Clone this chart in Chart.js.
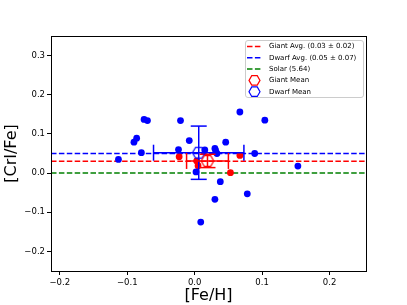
<!DOCTYPE html>
<html lang="en">
<head>
    <meta charset="UTF-8">
    <title>[CrI/Fe] vs [Fe/H]</title>
    <style>
        body { margin: 0; background: #fff; }
        #chart { display: block; }
    </style>
</head>
<body>
    <canvas id="chart" width="407" height="305"></canvas>

    <script src="https://cdn.jsdelivr.net/npm/chart.js"></script>
    <script>
        // dwarf stars
        const dwarfFeH = [-0.113, -0.090, -0.086, -0.075, -0.070, -0.079, -0.021, -0.008, -0.024, 0.046, 0.067, 0.104,
                          0.015, 0.030, 0.031, 0.033, 0.089, 0.002, 0.038, 0.030, 0.078, 0.009, 0.153]
        const dwarfCrFe = [0.035, 0.079, 0.089, 0.137, 0.134, 0.052, 0.134, 0.083, 0.060, 0.079, 0.156, 0.135,
                           0.059, 0.063, 0.058, 0.050, 0.050, 0.003, -0.022, -0.067, -0.053, -0.125, 0.018]
        // giant stars
        const giantFeH = [-0.023, 0.003, 0.005, 0.067, 0.053]
        const giantCrFe = [0.042, 0.031, 0.019, 0.045, 0.001]

        // means and spreads
        const giantMean = {x: 0.019, y: 0.031}
        const giantErr = {x: 0.031, y: 0.017}
        const dwarfMean = {x: 0.006, y: 0.052}
        const dwarfErr = {x: 0.067, y: 0.068}

        const giantAvg = 0.03
        const dwarfAvg = 0.05
        const solarLine = 0.0

        const xTicks = [-0.2, -0.1, 0.0, 0.1, 0.2]
        const yTicks = [-0.2, -0.1, 0.0, 0.1, 0.2, 0.3]
        const xRange = [-0.213, 0.254]
        const yRange = [-0.25, 0.35]

        const legendLabels = ['Giant Avg. (0.03 \u00b1 0.02)', 'Dwarf Avg. (0.05 \u00b1 0.07)', 'Solar (5.64)', 'Giant Mean', 'Dwarf Mean']

        const FONT = 'DejaVu Sans'
        const RED = '#ff0000', BLUE = '#0000ff', GREEN = '#008000'

        const toPts = (xs, ys) => xs.map((x, i) => ({x: x, y: ys[i]}))
        const fmt = v => v.toFixed(1).replace('-', '\u2212')

        // flat-topped hexagon, drawn once and used as a point style
        function hexPath(g, cx, cy, r) {
            g.beginPath()
            for (let i = 0; i < 6; i++) {
                const a = Math.PI / 3 * i
                const px = cx + r * Math.cos(a), py = cy + r * Math.sin(a)
                if (i) g.lineTo(px, py); else g.moveTo(px, py)
            }
            g.closePath()
        }
        function hexImage(color, r, lw) {
            const c = document.createElement('canvas')
            const s = Math.ceil(2 * r + lw + 2)
            c.width = c.height = s
            const g = c.getContext('2d')
            g.strokeStyle = color
            g.lineWidth = lw
            hexPath(g, s / 2, s / 2, r)
            g.stroke()
            return c
        }

        const hLine = (y, color) => ({
            data: [{x: xRange[0], y: y}, {x: xRange[1], y: y}],
            showLine: true, borderColor: color, borderWidth: 1.5, borderDash: [5.5, 2.4],
            pointRadius: 0, order: 4
        })

        // error bar = a two point line with 'line' shaped caps
        const errBar = (mean, err, color, dir, order) => ({
            data: dir === 'x'
                ? [{x: mean.x - err.x, y: mean.y}, {x: mean.x + err.x, y: mean.y}]
                : [{x: mean.x, y: mean.y - err.y}, {x: mean.x, y: mean.y + err.y}],
            showLine: true, borderColor: color, borderWidth: 1.5,
            pointStyle: 'line', pointRotation: dir === 'x' ? 90 : 0, pointRadius: 8,
            pointBorderColor: color, pointBorderWidth: 1.5, order: order
        })

        // legend box drawn inside the axes, top right
        const legendPlugin = {
            id: 'boxLegend',
            afterDraw(chart) {
                const ctx = chart.ctx
                const bx = 245, by = 40, bw = 118, bh = 57
                ctx.save()
                ctx.beginPath()
                ctx.roundRect(bx + 0.5, by + 0.5, bw, bh, 2.5)
                ctx.fillStyle = 'rgba(255,255,255,0.8)'
                ctx.fill()
                ctx.strokeStyle = '#cccccc'
                ctx.lineWidth = 1
                ctx.stroke()

                const colors = [RED, BLUE, GREEN, RED, BLUE]
                ctx.font = '7px "' + FONT + '"'
                ctx.textBaseline = 'middle'
                legendLabels.forEach((label, i) => {
                    const cy = 46.5 + i * 11.3
                    ctx.strokeStyle = colors[i]
                    ctx.lineWidth = 1.5
                    if (i < 3) {
                        ctx.setLineDash([5.5, 2.4])
                        ctx.beginPath()
                        ctx.moveTo(247, cy)
                        ctx.lineTo(261, cy)
                        ctx.stroke()
                        ctx.setLineDash([])
                    } else {
                        ctx.lineWidth = 1.2
                        hexPath(ctx, 254.5, cy, 5.5)
                        ctx.stroke()
                    }
                    ctx.fillStyle = '#000'
                    ctx.fillText(label, 269, cy)
                })
                ctx.restore()
            }
        }

        // top and right spines
        const framePlugin = {
            id: 'frame',
            afterDatasetsDraw(chart) {
                const a = chart.chartArea
                const ctx = chart.ctx
                ctx.save()
                ctx.strokeStyle = '#000'
                ctx.lineWidth = 1
                ctx.strokeRect(a.left + 0.5, a.top + 0.5, a.right - a.left, a.bottom - a.top)
                ctx.restore()
            }
        }

        const ctx = document.getElementById('chart').getContext('2d')
        const myChart = new Chart(ctx, {
            type: 'scatter',
            data: {
                datasets: [
                    {data: toPts(dwarfFeH, dwarfCrFe), backgroundColor: BLUE, pointRadius: 3.4, borderWidth: 0, order: 3},
                    {data: toPts(giantFeH, giantCrFe), backgroundColor: RED, pointRadius: 3.4, borderWidth: 0, order: 3},
                    hLine(giantAvg, RED),
                    hLine(dwarfAvg, BLUE),
                    hLine(solarLine, GREEN),
                    errBar(dwarfMean, dwarfErr, BLUE, 'x', 2),
                    errBar(dwarfMean, dwarfErr, BLUE, 'y', 2),
                    errBar(giantMean, giantErr, RED, 'x', 1),
                    errBar(giantMean, giantErr, RED, 'y', 1),
                    {data: [giantMean], pointStyle: hexImage(RED, 6.3, 1.2), pointRadius: 6, order: 0},
                    {data: [dwarfMean], pointStyle: hexImage(BLUE, 6.3, 1.2), pointRadius: 6, order: 0}
                ]
            },
            options: {
                responsive: false,
                animation: false,
                layout: {padding: {top: 36, right: 41, left: 0, bottom: 0}},
                plugins: {legend: {display: false}, tooltip: {enabled: false}},
                scales: {
                    x: {
                        type: 'linear', min: xRange[0], max: xRange[1],
                        afterBuildTicks: s => { s.ticks = xTicks.map(v => ({value: v})) },
                        afterFit: s => { s.height = 34 },
                        ticks: {callback: fmt, color: '#000', padding: 3, maxRotation: 0, font: {family: FONT, size: 8.5}},
                        grid: {drawOnChartArea: false, drawTicks: true, tickLength: 4, color: '#000'},
                        border: {display: true, color: '#000', width: 1},
                        title: {display: true, text: '[Fe/H]', color: '#000', padding: {top: 0, bottom: 0}, font: {family: FONT, size: 16}}
                    },
                    y: {
                        type: 'linear', min: yRange[0], max: yRange[1],
                        afterBuildTicks: s => { s.ticks = yTicks.map(v => ({value: v})) },
                        afterFit: s => { s.width = 51 },
                        ticks: {callback: fmt, color: '#000', padding: 2, font: {family: FONT, size: 8.5}},
                        grid: {drawOnChartArea: false, drawTicks: true, tickLength: 4, color: '#000'},
                        border: {display: true, color: '#000', width: 1},
                        title: {display: true, text: '[CrI/Fe]', color: '#000', padding: {top: 2, bottom: 0}, font: {family: FONT, size: 16}}
                    }
                }
            },
            plugins: [framePlugin, legendPlugin]
        })
    </script>
</body>
</html>
